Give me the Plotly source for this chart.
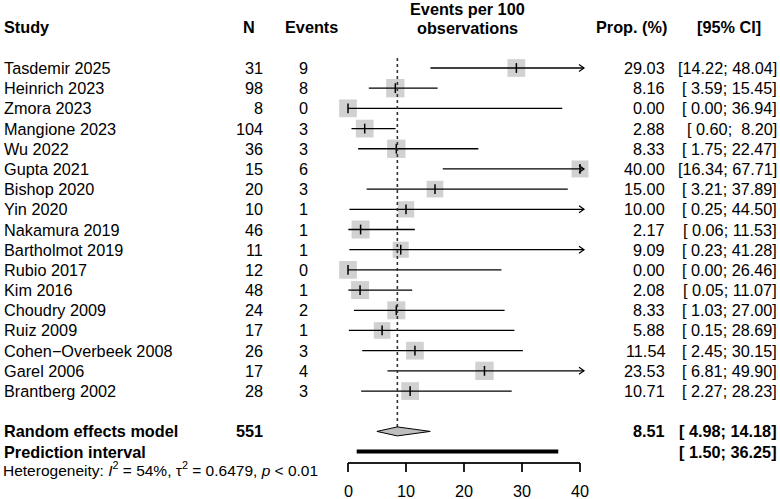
import plotly.graph_objects as go
import math

# ---------------- data ----------------
studies = ["Tasdemir 2025", "Heinrich 2023", "Zmora 2023", "Mangione 2023", "Wu 2022",
           "Gupta 2021", "Bishop 2020", "Yin 2020", "Nakamura 2019", "Bartholmot 2019",
           "Rubio 2017", "Kim 2016", "Choudry 2009", "Ruiz 2009", "Cohen\u2212Overbeek 2008",
           "Garel 2006", "Brantberg 2002"]
n_obs = [31, 98, 8, 104, 36, 15, 20, 10, 46, 11, 12, 48, 24, 17, 26, 17, 28]
events = [9, 8, 0, 3, 3, 6, 3, 1, 1, 1, 0, 1, 2, 1, 3, 4, 3]
prop = [29.03, 8.16, 0.00, 2.88, 8.33, 40.00, 15.00, 10.00, 2.17, 9.09, 0.00, 2.08,
        8.33, 5.88, 11.54, 23.53, 10.71]
ci_low = [14.22, 3.59, 0.00, 0.60, 1.75, 16.34, 3.21, 0.25, 0.06, 0.23, 0.00, 0.05,
          1.03, 0.15, 2.45, 6.81, 2.27]
ci_high = [48.04, 15.45, 36.94, 8.20, 22.47, 67.71, 37.89, 44.50, 11.53, 41.28, 26.46,
           11.07, 27.00, 28.69, 30.15, 49.90, 28.23]
weights = [6.8, 7.3, 6.8, 6.8, 7.3, 6.2, 6.0, 5.8, 7.0, 5.6, 6.8, 7.0, 7.0, 6.0, 6.8, 7.3, 6.8]
total_n = 551
re_est, re_low, re_high = 8.51, 4.98, 14.18
pi_low, pi_high = 1.50, 36.25
x_ticks = [0, 10, 20, 30, 40]
x_max = 40

# ---------------- layout constants ----------------
W, H = 780, 499
PX0, PX40 = 348, 580
ROW0, STEP = 68, 20.19
AXIS_PX, TICK_PX, TLAB_PX = 463, 472, 491
scale = (PX40 - PX0) / x_max
xmin, xmax = -PX0 / scale, (W - PX0) / scale
ymax_r, ymin_r = (H - ROW0) / STEP, -ROW0 / STEP
FONT = "Liberation Sans, Arial, sans-serif"
FS = 16.25
GREY = "#bebebe"

rows = list(range(len(studies)))
RE_ROW = len(studies) + 1
PI_ROW = RE_ROW + 1

def r_of(px):
    return (px - ROW0) / STEP

fig = go.Figure()

# squares (area proportional to weight)
fig.add_trace(go.Scatter(
    x=prop, y=rows, mode="markers", cliponaxis=False,
    marker=dict(symbol="square", color=GREY, size=[6.8 * math.sqrt(w) for w in weights],
                line=dict(width=0)),
    hoverinfo="skip"))

# CI lines (clipped at x_max), arrows, and the x axis line with its ticks
lx, ly, ax_, ay_ = [], [], [], []
ah_dx = 5 / scale
ah_dy = 3.5 / STEP
for r, lo, hi in zip(rows, ci_low, ci_high):
    end = min(hi, x_max)
    if hi > x_max:
        tip = x_max + 4 / scale
        end = tip
        ax_ += [tip - ah_dx, tip, tip - ah_dx, None]
        ay_ += [r - ah_dy, r, r + ah_dy, None]
    lx += [lo, end, None]
    ly += [r, r, None]
# axis line + ticks in the same line trace
lx += [x_ticks[0], x_ticks[-1], None]
ly += [r_of(AXIS_PX), r_of(AXIS_PX), None]
for t in x_ticks:
    lx += [t, t, None]
    ly += [r_of(AXIS_PX), r_of(TICK_PX), None]
fig.add_trace(go.Scatter(x=lx, y=ly, mode="lines", line=dict(color="black", width=1.3),
                         hoverinfo="skip"))
fig.add_trace(go.Scatter(x=ax_, y=ay_, mode="lines", line=dict(color="black", width=1.2),
                         hoverinfo="skip"))

# estimate ticks
fig.add_trace(go.Scatter(
    x=prop, y=rows, mode="markers", cliponaxis=False,
    marker=dict(symbol="line-ns", size=7, line=dict(color="black", width=1.5)),
    hoverinfo="skip"))

# dotted line at pooled estimate
dh = 4.5 / STEP
fig.add_trace(go.Scatter(x=[re_est, re_est], y=[r_of(58), RE_ROW - dh], mode="lines",
                         line=dict(color="#333333", width=1.6, dash="dot"), hoverinfo="skip"))

# diamond
fig.add_trace(go.Scatter(
    x=[re_low, re_est, re_high, re_est, re_low],
    y=[RE_ROW, RE_ROW - dh, RE_ROW, RE_ROW + dh, RE_ROW],
    mode="lines", fill="toself", fillcolor=GREY, line=dict(color="black", width=1),
    hoverinfo="skip"))

# prediction interval
fig.add_trace(go.Scatter(x=[pi_low, pi_high], y=[PI_ROW, PI_ROW], mode="lines",
                         line=dict(color="black", width=4), hoverinfo="skip"))

# axis line and ticks also as layout shapes on the same scale
shapes = [dict(type="line", xref="x", yref="y", layer="above", x0=x_ticks[0], x1=x_ticks[-1],
               y0=r_of(AXIS_PX), y1=r_of(AXIS_PX), line=dict(color="black", width=1.2))]
for t in x_ticks:
    shapes.append(dict(type="line", xref="x", yref="y", layer="above", x0=t, x1=t,
                       y0=r_of(AXIS_PX), y1=r_of(TICK_PX), line=dict(color="black", width=1.2)))

# ---------------- text ----------------
ann = []

def txt(s, px, y, anchor="left", bold=False, size=FS, yref="y", xref="paper"):
    if bold:
        s = "<b>" + s + "</b>"
    ann.append(dict(text=s, x=(px / W if xref == "paper" else px), xref=xref, y=y, yref=yref,
                    xanchor=anchor, yanchor="middle", showarrow=False, borderpad=0,
                    borderwidth=0, font=dict(family=FONT, size=size, color="black")))

for t in x_ticks:
    txt(str(t), t, r_of(TLAB_PX), anchor="center", xref="x")

# headers
hr = r_of(27)
txt("Study", 4, hr, bold=True)
txt("N", 243, hr, bold=True)
txt("Events", 285, hr, bold=True)
txt("Events per 100", 467, r_of(9), anchor="center", bold=True)
txt("observations", 467, r_of(28), anchor="center", bold=True)
txt("Prop. (%)", 667, hr, anchor="right", bold=True)
txt("[95% CI]", 729, hr, anchor="center", bold=True)

for r, s, nn, ev, p, lo, hi in zip(rows, studies, n_obs, events, prop, ci_low, ci_high):
    txt(s, 4, r)
    txt(str(nn), 263, r, anchor="right")
    txt(str(ev), 308, r, anchor="right")
    txt(f"{p:.2f}", 665, r, anchor="right")
    txt(f"[{lo:5.2f}; {hi:5.2f}]", 777, r, anchor="right")

txt("Random effects model", 4, RE_ROW, bold=True)
txt(str(total_n), 263, RE_ROW, anchor="right", bold=True)
txt(f"{re_est:.2f}", 665, RE_ROW, anchor="right", bold=True)
txt(f"[{re_low:5.2f}; {re_high:5.2f}]", 777, RE_ROW, anchor="right", bold=True)
txt("Prediction interval", 4, PI_ROW, bold=True)
txt(f"[{pi_low:5.2f}; {pi_high:5.2f}]", 777, PI_ROW, anchor="right", bold=True)
txt("Heterogeneity: <i>I</i><sup>2</sup> = 54%, \u03c4<sup>2</sup> = 0.6479, <i>p</i> &lt; 0.01",
    3, r_of(469), size=15.5)

fig.update_layout(
    width=W, height=H, margin=dict(l=0, r=0, t=0, b=0),
    paper_bgcolor="white", plot_bgcolor="white", showlegend=False,
    annotations=ann, shapes=shapes,
    xaxis=dict(domain=[0, 1], range=[xmin, xmax], visible=False),
    yaxis=dict(domain=[0, 1], range=[ymax_r, ymin_r], visible=False),
)

fig.write_html("out.html", config={"staticPlot": True})
